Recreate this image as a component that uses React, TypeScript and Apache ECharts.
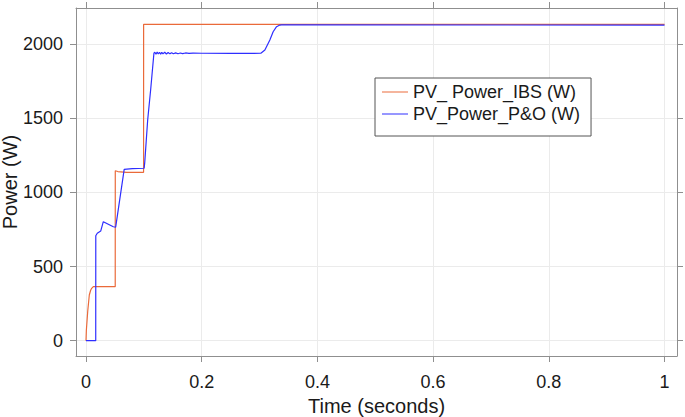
import React, { useEffect, useRef } from "react";
import * as echarts from "echarts";

// ---- Data ----
const IBS_T = [0, 0.0005, 0.0006, 0.003, 0.0057, 0.008, 0.0098, 0.0126, 0.0505, 0.0506, 0.055, 0.07, 0.0995, 0.0996, 1.0];
const IBS_P = [0, 0, 70, 200, 308, 340, 353, 364, 364, 1145, 1140, 1135, 1135, 2132, 2132];

const PO_T = [
  0, 0.0168, 0.0169, 0.0195, 0.0254, 0.0299, 0.0472, 0.0513, 0.066, 0.08, 0.1005, 0.1015, 0.1066, 0.1117, 0.1174,
  0.119, 0.121, 0.123, 0.125, 0.127, 0.129, 0.131, 0.133, 0.136, 0.139, 0.142, 0.145, 0.148, 0.151, 0.155, 0.159,
  0.163, 0.167, 0.172, 0.178, 0.185, 0.2, 0.25, 0.3022, 0.3092, 0.3178, 0.3235, 0.3294, 0.3351, 0.338, 1.0,
];
const PO_P = [
  0, 0, 707, 724, 739, 802, 768, 766, 1155, 1160, 1162, 1200, 1487, 1689, 1937,
  1944, 1930, 1945, 1932, 1944, 1931, 1943, 1933, 1944, 1932, 1942, 1933, 1941, 1934, 1940, 1934,
  1939, 1935, 1939, 1936, 1938, 1937, 1936, 1937, 1959, 2026, 2082, 2116, 2127, 2128, 2127,
];

const SERIES_NAMES = ["PV_ Power_IBS (W)", "PV_Power_P&O (W)"];
const X_TICKS = [0, 0.2, 0.4, 0.6, 0.8, 1];
const Y_TICKS = [0, 500, 1000, 1500, 2000];
const X_MIN = -0.0173;
const X_MAX = 1.0216;
const Y_MIN = -103;
const Y_MAX = 2242;
const X_TITLE = "Time (seconds)";
const Y_TITLE = "Power (W)";

const FONT = "'Liberation Sans', Arial, Helvetica, sans-serif";
const AXIS_COLOR = "#8f8f8f";
const GRID_COLOR = "#ebebeb";
const TEXT_COLOR = "#1a1a1a";
const ORANGE = "#EA6A3A";
const BLUE = "#2E2EFF";

export default function App() {
  const ref = useRef<HTMLDivElement>(null);

  useEffect(() => {
    if (!ref.current) return;
    const chart = echarts.init(ref.current, undefined, { renderer: "svg" });

    const ibs = IBS_T.map((t, i) => [t, IBS_P[i]]);
    const po = PO_T.map((t, i) => [t, PO_P[i]]);

    const line = { show: true, onZero: false, lineStyle: { color: AXIS_COLOR, width: 1 } };
    const tickStyle = { color: AXIS_COLOR, width: 1 };
    const fmt = (v: number) => String(v);

    chart.setOption({
      animation: false,
      backgroundColor: "#ffffff",
      textStyle: { fontFamily: FONT },
      grid: { left: 76, top: 8, width: 601, height: 348, containLabel: false, outerBoundsMode: "none" },
      graphic: [
        {
          type: "text",
          x: 10,
          y: 182,
          rotation: Math.PI / 2,
          style: {
            text: Y_TITLE,
            fontSize: 20,
            fontFamily: FONT,
            fill: TEXT_COLOR,
            align: "center",
            verticalAlign: "middle",
          },
        },
      ],
      legend: {
        orient: "vertical",
        left: 375,
        top: 78,
        padding: [5, 11, 13, 7],
        itemGap: 4,
        itemWidth: 26,
        itemHeight: 1,
        icon: "rect",
        backgroundColor: "#ffffff",
        borderColor: "#555555",
        borderWidth: 1,
        borderRadius: 0,
        textStyle: { fontSize: 18, color: TEXT_COLOR, fontFamily: FONT, lineHeight: 18 },
        data: SERIES_NAMES,
      },
      xAxis: [
        {
          type: "value",
          min: X_MIN,
          max: X_MAX,
          position: "bottom",
          axisLine: line,
          axisTick: { show: true, inside: false, length: 6, customValues: X_TICKS, lineStyle: tickStyle },
          axisLabel: { customValues: X_TICKS, formatter: fmt, margin: 17, fontSize: 18, color: TEXT_COLOR, fontFamily: FONT },
          splitLine: { show: true, lineStyle: { color: GRID_COLOR, width: 1 } },
          name: X_TITLE,
          nameLocation: "middle",
          nameGap: 40,
          nameTextStyle: { fontSize: 20, color: TEXT_COLOR, fontFamily: FONT, verticalAlign: "top" },
        },
        {
          type: "value",
          min: X_MIN,
          max: X_MAX,
          position: "top",
          axisLine: line,
          axisTick: { show: true, inside: false, length: 6, customValues: X_TICKS, lineStyle: tickStyle },
          axisLabel: { show: false },
          splitLine: { show: false },
        },
      ],
      yAxis: [
        {
          type: "value",
          min: Y_MIN,
          max: Y_MAX,
          position: "left",
          axisLine: line,
          axisTick: { show: true, inside: false, length: 6, customValues: Y_TICKS, lineStyle: tickStyle },
          axisLabel: { customValues: Y_TICKS, formatter: fmt, margin: 13, fontSize: 18, color: TEXT_COLOR, fontFamily: FONT },
          splitLine: { show: true, lineStyle: { color: GRID_COLOR, width: 1 } },
        },
        {
          type: "value",
          min: Y_MIN,
          max: Y_MAX,
          position: "right",
          axisLine: line,
          axisTick: { show: true, inside: false, length: 6, customValues: Y_TICKS, lineStyle: tickStyle },
          axisLabel: { show: false },
          splitLine: { show: false },
        },
      ],
      series: [
        {
          name: SERIES_NAMES[0],
          type: "line",
          data: ibs,
          symbol: "none",
          showSymbol: false,
          color: ORANGE,
          lineStyle: { color: ORANGE, width: 1.2 },
          xAxisIndex: 0,
          yAxisIndex: 0,
        },
        {
          name: SERIES_NAMES[1],
          type: "line",
          data: po,
          symbol: "none",
          showSymbol: false,
          color: BLUE,
          lineStyle: { color: BLUE, width: 1.2 },
          xAxisIndex: 0,
          yAxisIndex: 0,
        },
      ],
    });

    return () => chart.dispose();
  }, []);

  return (
    <div
      ref={ref}
      style={{ position: "fixed", left: 0, top: 0, width: 685, height: 417, background: "#fff" }}
    />
  );
}
